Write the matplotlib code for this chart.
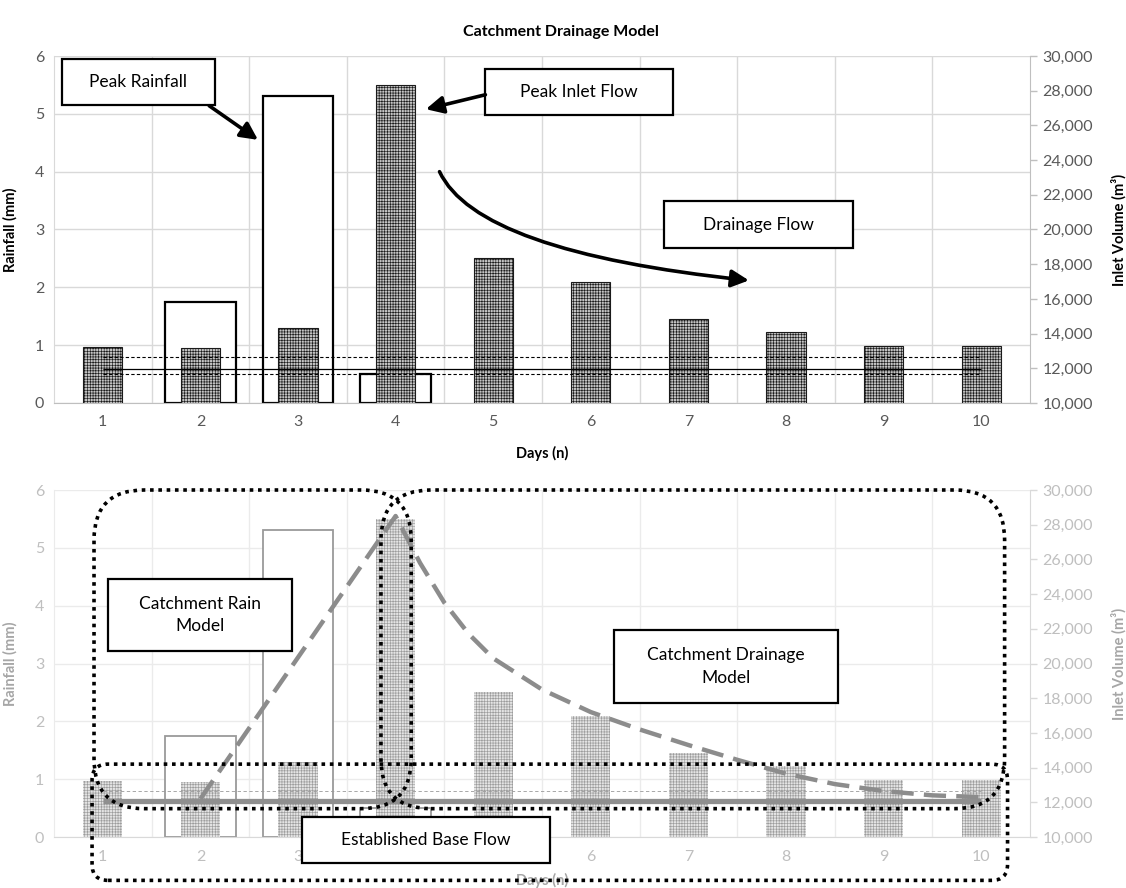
import matplotlib
matplotlib.use("Agg")
import matplotlib.pyplot as plt
from matplotlib.patches import Rectangle, FancyBboxPatch, FancyArrowPatch
from matplotlib.ticker import FuncFormatter

plt.rcParams['font.family'] = ['Lato', 'DejaVu Sans']
plt.rcParams['hatch.linewidth'] = 0.45

# data
days = [1, 2, 3, 4, 5, 6, 7, 8, 9, 10]
rainfall = [0, 1.75, 5.3, 0.5, 0, 0, 0, 0, 0, 0]
inlet_volume = [13230, 13170, 14330, 28300, 18330, 17000, 14850, 14100, 13300, 13280]

# base flow lines (top panel: low / mean / high)
base_low, base_mean, base_high = 11650, 11950, 12630
base_flow_bottom = 12070

# freehand drainage curve in the lower panel
curve_days = [2, 4, 4.25, 4.5, 4.75, 5, 5.5, 6, 6.5, 7, 7.5, 8, 8.5, 9, 9.5, 10]
curve_volume = [12200, 28500, 25800, 23500, 21700, 20300, 18500, 17200, 16200,
                15300, 14450, 13650, 13050, 12650, 12400, 12300]

FIG_W, FIG_H = 1126, 888
AX_LEFT, AX_W = 54 / FIG_W, 976 / FIG_W
AX_H = 347 / FIG_H

fig = plt.figure(figsize=(FIG_W / 100, FIG_H / 100), dpi=100)
ax_top = fig.add_axes([AX_LEFT, 1 - 403 / FIG_H, AX_W, AX_H])
ax_bot = fig.add_axes([AX_LEFT, 1 - 837 / FIG_H, AX_W, AX_H])


def draw_panel(ax, light):
    grid_c = '#ebebeb' if light else '#d9d9d9'
    tick_c = '#bfbfbf' if light else '#595959'
    lab_c = '#a6a6a6' if light else 'black'
    rain_edge = '#9a9a9a' if light else 'black'

    ax.set_xlim(0.5, 10.5)
    ax.set_ylim(0, 6)
    ax.set_xticks(days)
    ax.set_xticks([d + 0.5 for d in days[:-1]], minor=True)
    ax.set_yticks(range(0, 7))
    ax.grid(axis='y', color=grid_c, lw=1)
    ax.grid(axis='x', which='minor', color=grid_c, lw=1)
    ax.set_axisbelow(True)
    ax.tick_params(axis='both', which='both', length=0, colors=tick_c, labelsize=11.5)
    ax.tick_params(axis='x', pad=9)
    ax.tick_params(axis='y', pad=7)
    for s in ['top', 'right']:
        ax.spines[s].set_visible(False)
    ax.spines['left'].set_color(grid_c)
    ax.spines['bottom'].set_color('#d9d9d9' if light else '#bfbfbf')

    rx = [d for d, r in zip(days, rainfall) if r > 0]
    rh = [r for r in rainfall if r > 0]
    ax.bar(rx, rh, width=0.72, facecolor='white', edgecolor=rain_edge,
           linewidth=1.3 if light else 1.6, zorder=2)

    ax.set_ylabel('Rainfall (mm)', fontsize=10.5, fontweight='bold', color=lab_c)
    ax.yaxis.set_label_coords(-0.037, 0.5)
    ax.set_xlabel('Days (n)', fontsize=10.5, fontweight='bold', color=lab_c)
    ax.xaxis.set_label_coords(0.5, -0.105 if light else -0.124)

    ax2 = ax.twinx()
    ax2.set_ylim(10000, 30000)
    ax2.set_yticks(range(10000, 30001, 2000))
    ax2.yaxis.set_major_formatter(FuncFormatter(lambda v, p: f'{int(v):,}'))
    ax2.tick_params(axis='y', length=5, width=1, colors=tick_c, labelsize=11.5, pad=4)
    ax2.tick_params(axis='y', color='#d9d9d9' if light else '#bfbfbf')
    for s in ['top', 'left', 'bottom']:
        ax2.spines[s].set_visible(False)
    ax2.spines['right'].set_color('#d9d9d9' if light else '#bfbfbf')
    ax2.set_ylabel('Inlet Volume (m³)', fontsize=10.5, fontweight='bold', color=lab_c)
    ax2.yaxis.set_label_coords(1.083, 0.5)

    if light:
        ax2.bar(days, inlet_volume, width=0.4, facecolor='#e4e4e4',
                edgecolor='#9c9c9c', linewidth=0, hatch='++++++', zorder=2)
    else:
        ax2.bar(days, inlet_volume, width=0.4, facecolor='#c4c4c4',
                edgecolor='#1a1a1a', linewidth=0.8, hatch='++++++', zorder=2)
    return ax2


ax2_top = draw_panel(ax_top, light=False)
ax2_bot = draw_panel(ax_bot, light=True)

fig.text(0.498, 1 - 32 / FIG_H, 'Catchment Drainage Model', ha='center', va='center',
         fontsize=11.5, fontweight='bold')

# top panel base flow lines
ax2_top.hlines(base_high, 1, 10, color='black', lw=0.8, linestyles=(0, (3, 2)), zorder=3)
ax2_top.hlines(base_mean, 1, 10, color='black', lw=0.9, zorder=3)
ax2_top.hlines(base_low, 1, 10, color='black', lw=0.8, linestyles=(0, (3, 2)), zorder=3)

# bottom panel lines
ax2_bot.hlines(base_high, 1, 10, color='#9a9a9a', lw=0.6, linestyles=(0, (4, 3)), zorder=3)
ax2_bot.hlines(base_flow_bottom, 1, 10, color='#8f8f8f', lw=3.8, zorder=3)
ax2_bot.plot(curve_days, curve_volume, color='#8c8c8c', lw=3.2,
             linestyle=(0, (5, 2.3)), zorder=4)


def label_box(host, data_ax, x0, x1, y0, y1, text):
    host.add_patch(Rectangle((x0, y0), x1 - x0, y1 - y0, transform=data_ax.transData,
                             facecolor='white', edgecolor='black', lw=1.6,
                             zorder=6, clip_on=False))
    host.text((x0 + x1) / 2, (y0 + y1) / 2, text, transform=data_ax.transData,
              ha='center', va='center', fontsize=12.5, linespacing=1.5, zorder=7)


def arrow(host, data_ax, start, end, conn='arc3,rad=0'):
    host.add_patch(FancyArrowPatch(start, end, transform=data_ax.transData,
                                   arrowstyle='-|>', mutation_scale=26, lw=2.6,
                                   color='black', shrinkA=0, shrinkB=0,
                                   connectionstyle=conn, zorder=8, clip_on=False))


# top panel callouts
label_box(ax2_top, ax_top, 0.58, 2.15, 5.16, 5.95, 'Peak Rainfall')
label_box(ax2_top, ax_top, 4.92, 6.84, 4.98, 5.78, 'Peak Inlet Flow')
label_box(ax2_top, ax_top, 6.75, 8.69, 2.68, 3.49, 'Drainage Flow')
arrow(ax2_top, ax_top, (2.09, 5.14), (2.59, 4.55))
arrow(ax2_top, ax_top, (4.92, 5.33), (4.31, 5.08))
arrow(ax2_top, ax_top, (4.45, 4.0), (7.62, 2.12), 'angle3,angleA=-65,angleB=-6')

# bottom panel dotted groupings
px_day = AX_W * FIG_W / 10
px_unit = AX_H * FIG_H / 6
aspect = px_day / px_unit


def dotted_group(x0, x1, y0, y1, r_px):
    ax2_bot.add_patch(FancyBboxPatch((x0, y0), x1 - x0, y1 - y0,
                                     boxstyle=f'round,pad=0,rounding_size={r_px / px_day}',
                                     mutation_aspect=aspect, transform=ax_bot.transData,
                                     fill=False, edgecolor='black', lw=2.6,
                                     linestyle=(0, (1, 1.3)), zorder=5, clip_on=False))


dotted_group(0.91, 4.16, 0.49, 6.0, 50)
dotted_group(3.85, 10.24, 0.49, 6.0, 50)
dotted_group(0.89, 10.27, -0.75, 1.26, 16)

label_box(ax2_bot, ax_bot, 1.05, 2.94, 3.22, 4.46, 'Catchment Rain\nModel')
label_box(ax2_bot, ax_bot, 6.24, 8.53, 2.31, 3.58, 'Catchment Drainage\nModel')
label_box(ax2_bot, ax_bot, 3.04, 5.58, -0.45, 0.34, 'Established Base Flow')

fig.savefig('out.png', dpi=100)
